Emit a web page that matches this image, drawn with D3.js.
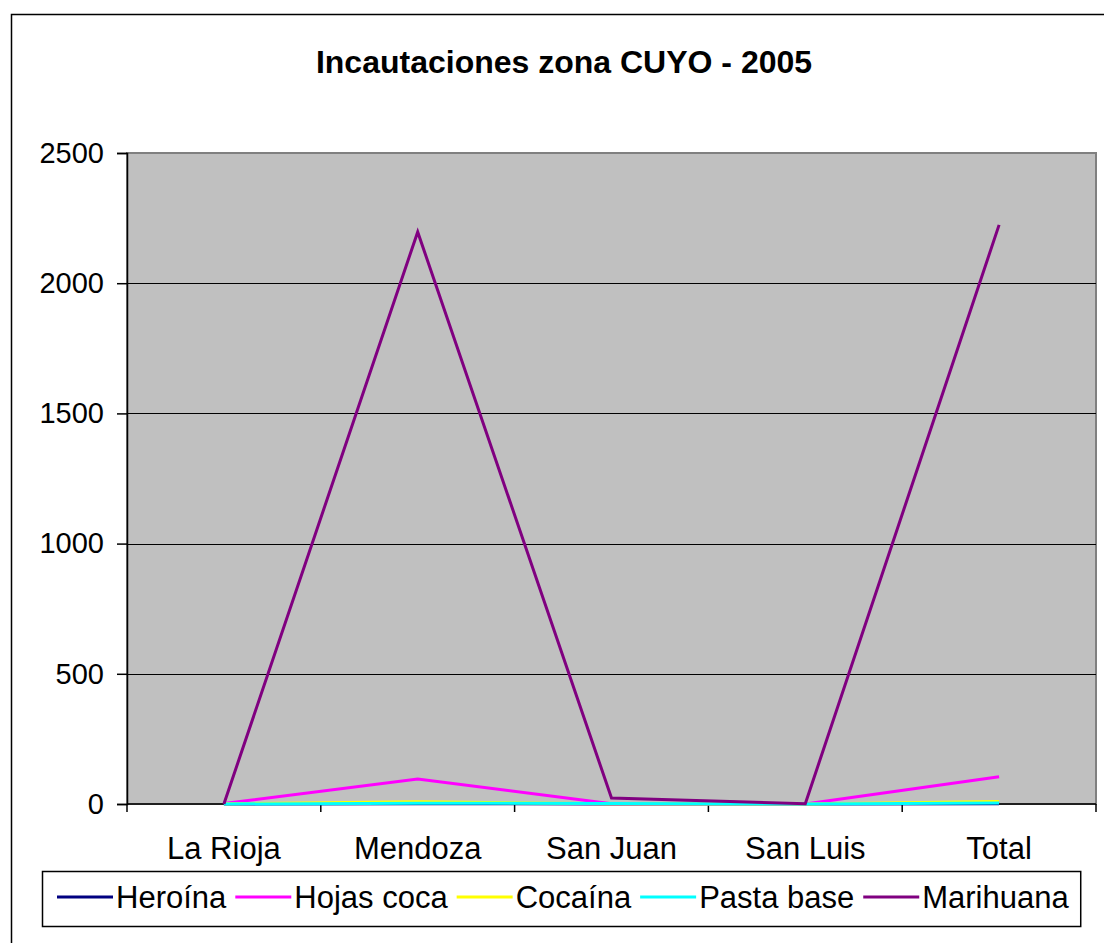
<!DOCTYPE html>
<html lang="es">
<head>
    <meta charset="UTF-8">
    <title>Incautaciones zona CUYO - 2005</title>
    <style>
        body {
            margin: 0;
            padding: 0;
            background-color: #ffffff;
        }
        svg text {
            font-family: Arial, "Liberation Sans", sans-serif;
            fill: #000;
        }
    </style>
    <script src="https://d3js.org/d3.v7.min.js"></script>
</head>
<body>
    <svg id="chart" width="1104" height="943"></svg>

    <script>
        // data
        const categories = ["La Rioja", "Mendoza", "San Juan", "San Luis", "Total"];
        const seriesNames = ["Heroína", "Hojas coca", "Cocaína", "Pasta base", "Marihuana"];
        const seriesColors = ["#000080", "#ff00ff", "#ffff00", "#00ffff", "#800080"];
        const heroina = [0, 1, 0, 0, 1];
        const hojasCoca = [2, 96, 1, 0, 105];
        const cocaina = [1, 9, 1, 0, 10];
        const pastaBase = [0, 3, 2, 0, 4];
        const marihuana = [0, 2197, 23, 1, 2224];
        const yTicks = [0, 500, 1000, 1500, 2000, 2500];

        const seriesValues = [heroina, hojasCoca, cocaina, pastaBase, marihuana];

        const plot = { left: 127, top: 153, right: 1096, bottom: 804 };

        const svg = d3.select("#chart");

        // outer chart frame (runs off the right and bottom edges)
        svg.append("rect")
            .attr("x", 11.5)
            .attr("y", 14.5)
            .attr("width", 1106)
            .attr("height", 960)
            .attr("fill", "none")
            .attr("stroke", "#000")
            .attr("stroke-width", 1.5);

        // title
        svg.append("text")
            .attr("x", 564)
            .attr("y", 73)
            .attr("text-anchor", "middle")
            .style("font-size", "32px")
            .style("font-weight", "bold")
            .text("Incautaciones zona CUYO - 2005");

        const x = d3.scaleBand()
            .domain(categories)
            .range([plot.left, plot.right]);

        const y = d3.scaleLinear()
            .domain([0, 2500])
            .range([plot.bottom, plot.top]);

        // plot area
        svg.append("rect")
            .attr("x", plot.left)
            .attr("y", plot.top)
            .attr("width", plot.right - plot.left)
            .attr("height", plot.bottom - plot.top)
            .attr("fill", "#c0c0c0")
            .attr("stroke", "#808080")
            .attr("stroke-width", 2);

        // gridlines
        svg.append("g")
            .selectAll("line")
            .data(yTicks.slice(1, -1))
            .enter().append("line")
            .attr("x1", plot.left)
            .attr("x2", plot.right)
            .attr("y1", d => Math.round(y(d)) + 0.5)
            .attr("y2", d => Math.round(y(d)) + 0.5)
            .attr("stroke", "#000")
            .attr("stroke-width", 1);

        // y axis
        const yAxis = svg.append("g")
            .attr("transform", `translate(${plot.left},0)`)
            .call(d3.axisLeft(y).tickValues(yTicks).tickFormat(d3.format("d")).tickSize(10).tickPadding(13));
        yAxis.select(".domain").attr("stroke", "#000").attr("stroke-width", 1.5);
        yAxis.selectAll(".tick line").attr("stroke", "#000").attr("stroke-width", 1.5);
        yAxis.selectAll(".tick text")
            .style("font-size", "29px")
            .style("font-family", "Arial, 'Liberation Sans', sans-serif")
            .attr("fill", "#000");

        // x axis, ticks sit between categories
        const bounds = categories.map(c => x(c)).concat([plot.right]);
        const xAxis = svg.append("g");
        xAxis.append("line")
            .attr("x1", plot.left)
            .attr("x2", plot.right)
            .attr("y1", plot.bottom)
            .attr("y2", plot.bottom)
            .attr("stroke", "#000")
            .attr("stroke-width", 1.5);
        xAxis.selectAll(".xtick")
            .data(bounds)
            .enter().append("line")
            .attr("class", "xtick")
            .attr("x1", d => d)
            .attr("x2", d => d)
            .attr("y1", plot.bottom)
            .attr("y2", plot.bottom + 8)
            .attr("stroke", "#000")
            .attr("stroke-width", 1.5);
        xAxis.selectAll(".xlabel")
            .data(categories)
            .enter().append("text")
            .attr("class", "xlabel")
            .attr("x", d => x(d) + x.bandwidth() / 2)
            .attr("y", 859)
            .attr("text-anchor", "middle")
            .style("font-size", "31px")
            .text(d => d);

        // series lines
        const line = d3.line()
            .x((d, i) => x(categories[i]) + x.bandwidth() / 2)
            .y(d => y(d));

        svg.append("g")
            .selectAll("path")
            .data(seriesValues)
            .enter().append("path")
            .attr("d", d => line(d))
            .attr("fill", "none")
            .attr("stroke", (d, i) => seriesColors[i])
            .attr("stroke-width", 3)
            .attr("stroke-linejoin", "miter");

        // legend
        const legend = svg.append("g");
        const legendBox = legend.append("rect")
            .attr("y", 871.5)
            .attr("height", 55)
            .attr("fill", "#fff")
            .attr("stroke", "#000")
            .attr("stroke-width", 1.5);

        let lx = 57;
        const lineLen = 56;
        seriesNames.forEach((name, i) => {
            legend.append("line")
                .attr("x1", lx)
                .attr("x2", lx + lineLen)
                .attr("y1", 897)
                .attr("y2", 897)
                .attr("stroke", seriesColors[i])
                .attr("stroke-width", 3);
            const t = legend.append("text")
                .attr("x", lx + lineLen + 3)
                .attr("y", 908)
                .style("font-size", "31px")
                .text(name);
            lx += lineLen + 3 + t.node().getComputedTextLength() + 9;
        });
        legendBox.attr("x", 42.5).attr("width", lx - 42.5 + 3);
    </script>
</body>
</html>
